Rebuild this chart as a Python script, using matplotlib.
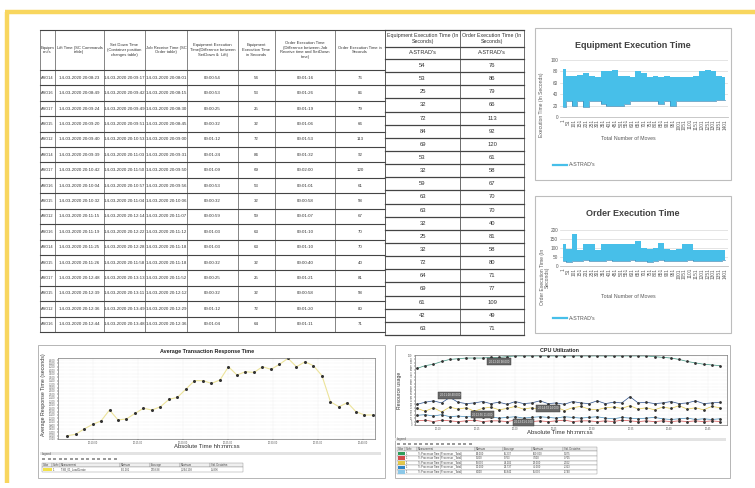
import numpy as np
import matplotlib
matplotlib.use('Agg')
import matplotlib.pyplot as plt
from matplotlib.patches import Rectangle

W, H = 755, 488
plt.rcParams['font.family'] = ['Liberation Sans', 'DejaVu Sans']

# ---------------- data ----------------
equipment = ['ASO14', 'ASO16', 'ASO17', 'ASO15', 'ASO12', 'ASO14', 'ASO17', 'ASO16', 'ASO15',
             'ASO12', 'ASO16', 'ASO14', 'ASO15', 'ASO17', 'ASO15', 'ASO12', 'ASO16']
lift_time = ['14-03-2020 20:08:23', '14-03-2020 20:08:49', '14-03-2020 20:09:24', '14-03-2020 20:09:20',
             '14-03-2020 20:09:40', '14-03-2020 20:09:39', '14-03-2020 20:10:42', '14-03-2020 20:10:04',
             '14-03-2020 20:10:32', '14-03-2020 20:11:15', '14-03-2020 20:11:19', '14-03-2020 20:11:25',
             '14-03-2020 20:11:26', '14-03-2020 20:12:48', '14-03-2020 20:12:39', '14-03-2020 20:12:36',
             '14-03-2020 20:12:44']
set_down_time = ['14-03-2020 20:09:17', '14-03-2020 20:09:42', '14-03-2020 20:09:49', '14-03-2020 20:09:51',
                 '14-03-2020 20:10:53', '14-03-2020 20:11:03', '14-03-2020 20:11:50', '14-03-2020 20:10:57',
                 '14-03-2020 20:11:04', '14-03-2020 20:12:14', '14-03-2020 20:12:22', '14-03-2020 20:12:28',
                 '14-03-2020 20:11:58', '14-03-2020 20:13:13', '14-03-2020 20:13:11', '14-03-2020 20:13:49',
                 '14-03-2020 20:13:48']
job_receive_time = ['14-03-2020 20:08:01', '14-03-2020 20:08:15', '14-03-2020 20:08:30', '14-03-2020 20:08:45',
                    '14-03-2020 20:09:00', '14-03-2020 20:09:31', '14-03-2020 20:09:50', '14-03-2020 20:09:56',
                    '14-03-2020 20:10:06', '14-03-2020 20:11:07', '14-03-2020 20:11:12', '14-03-2020 20:11:18',
                    '14-03-2020 20:11:18', '14-03-2020 20:11:52', '14-03-2020 20:12:12', '14-03-2020 20:12:29',
                    '14-03-2020 20:12:36']
equip_exec_diff = ['00:00:54', '00:00:53', '00:00:25', '00:00:32', '00:01:12', '00:01:24', '00:01:09',
                   '00:00:53', '00:00:32', '00:00:59', '00:01:03', '00:01:03', '00:00:32', '00:00:25',
                   '00:00:32', '00:01:12', '00:01:04']
equip_exec_sec = [54, 53, 25, 32, 72, 84, 69, 53, 32, 59, 63, 63, 32, 25, 32, 72, 64]
order_exec_diff = ['00:01:16', '00:01:26', '00:01:19', '00:01:06', '00:01:53', '00:01:32', '00:02:00',
                   '00:01:01', '00:00:58', '00:01:07', '00:01:10', '00:01:10', '00:00:40', '00:01:21',
                   '00:00:58', '00:01:20', '00:01:11']
order_exec_sec = [76, 86, 79, 66, 113, 92, 120, 61, 58, 67, 70, 70, 40, 81, 58, 80, 71]
left_headers = ['Equipm\nent\'s', 'Lift Time (SC Commands\ntable)',
                'Set Down Time\n(Container position\nchanges table)', 'Job Receive Time (SC\nOrder table)',
                'Equipment Execution\nTime(Difference between\nSetDown &  Lift)',
                'Equipment\nExecution Time\nin Seconds',
                'Order Execution Time\n(Difference between Job\nReceive time and SetDown\ntime)',
                'Order Execution Time in\nSeconds']

right_headers = ['Equipment Execution Time (In\nSeconds)', 'Order Execution Time (In\nSeconds)']
astrad_equip_sec = [54, 53, 25, 32, 72, 84, 69, 53, 32, 59, 63, 63, 32, 25, 32, 72, 64, 69, 61, 42, 63]
astrad_order_sec = [76, 86, 79, 66, 113, 92, 120, 61, 58, 67, 70, 70, 40, 81, 58, 80, 71, 77, 109, 49, 71]

moves = [1, 51, 101, 151, 201, 251, 301, 351, 401, 451, 501, 551, 601, 651, 701, 751, 801, 851, 901,
         951, 1001, 1051, 1101, 1151, 1201, 1251, 1301, 1351, 1401]
equip_upper = [85, 72, 72, 74, 78, 72, 70, 80, 80, 82, 72, 72, 70, 80, 78, 70, 72, 70, 72, 70, 70,
               70, 70, 72, 80, 82, 80, 72, 70]
equip_lower = [18, 28, 20, 28, 18, 28, 28, 22, 20, 20, 20, 22, 28, 28, 28, 28, 28, 22, 28, 20, 28,
               28, 28, 28, 28, 28, 28, 30, 30]
order_upper = [120, 95, 180, 90, 120, 120, 90, 120, 120, 120, 120, 120, 125, 140, 100, 95, 100, 130,
               95, 90, 95, 120, 120, 90, 90, 90, 90, 90, 90]
order_lower = [30, 25, 30, 28, 32, 30, 30, 28, 32, 30, 30, 28, 32, 30, 30, 25, 30, 32, 30, 28, 30,
               30, 32, 28, 30, 30, 28, 30, 32]

avg_resp_time = [0.19, 0.27, 0.58, 0.85, 1.05, 1.69, 1.11, 1.17, 1.49, 1.79, 1.69, 1.88, 2.31, 2.43,
                 2.91, 3.40, 3.40, 3.24, 3.44, 4.21, 3.73, 3.92, 3.88, 4.21, 4.06, 4.35, 4.70, 4.21,
                 4.50, 4.27, 3.69, 2.17, 1.88, 2.12, 1.59, 1.40, 1.40]
resp_time_labels = ['20:10:00', '20:15:00', '20:20:00', '20:25:00', '20:30:00', '20:35:00', '20:40:00']

cpu_total = [82, 86, 88, 92, 95, 96, 97, 97, 97, 98, 98, 99, 100, 100, 100, 100, 100, 100, 100,
             100, 100, 100, 100, 100, 100, 100, 100, 100, 100, 99, 98, 97, 95, 92, 90, 88, 87, 86]
cpu_proc1 = [30, 33, 35, 32, 40, 33, 31, 32, 34, 31, 33, 30, 34, 31, 32, 35, 31, 32, 30, 34, 32,
             31, 35, 31, 33, 32, 41, 32, 33, 31, 32, 34, 31, 32, 35, 31, 32, 33]
cpu_proc2 = [24, 20, 25, 19, 26, 23, 25, 20, 24, 26, 22, 24, 27, 23, 25, 22, 24, 26, 21, 25, 27,
             23, 22, 25, 26, 24, 28, 23, 25, 22, 26, 24, 28, 23, 25, 22, 27, 25]
cpu_proc3 = [14, 15, 13, 15, 12, 13, 12, 12, 11, 12, 10, 11, 12, 10, 11, 12, 11, 10, 12, 11, 10,
             11, 12, 10, 9, 11, 10, 9, 10, 11, 9, 8, 9, 10, 8, 9, 8, 9]
cpu_proc4 = [6, 7, 5, 7, 6, 5, 6, 7, 5, 6, 6, 5, 7, 6, 5, 6, 5, 6, 7, 5, 6, 6, 5, 6, 5, 7, 6, 5,
             6, 5, 6, 5, 6, 5, 6, 5, 6, 5]
cpu_time_labels = ['20:10', '20:15', '20:20', '20:25', '20:30', '20:35', '20:40', '20:45']

BLUE = '#47BFE9'
GRID = '#D9D9D9'
TXT = '#333333'


def px(x0, y0, x1, y1):
    # pixel box (top-left origin) -> figure fraction
    return [x0 / W, 1 - y1 / H, (x1 - x0) / W, (y1 - y0) / H]


fig = plt.figure(figsize=(7.55, 4.88), dpi=100)
bg = fig.add_axes([0, 0, 1, 1])
bg.set_xlim(0, W)
bg.set_ylim(H, 0)
bg.axis('off')

# yellow frame
bg.plot([5, W], [12, 12], color='#F8D65E', lw=3.2, solid_capstyle='butt')
bg.plot([7, 7], [12, 483], color='#F8D65E', lw=3.2, solid_capstyle='butt')

# ---------------- left table ----------------
col_x = [40, 55, 104, 145, 187, 238, 275, 335, 385]
t_top, t_head, t_bot = 30, 70, 332
row_h = (t_bot - t_head) / len(equipment)
for x in col_x:
    bg.plot([x, x], [t_top, t_bot], color='#555555', lw=0.5)
for y in [t_top, t_head] + [t_head + row_h * (i + 1) for i in range(len(equipment))]:
    bg.plot([col_x[0], col_x[-1]], [y, y], color='#444444', lw=0.8)
for i, h in enumerate(left_headers):
    bg.text((col_x[i] + col_x[i + 1]) / 2, (t_top + t_head) / 2, h, fontsize=3.0, color=TXT,
            ha='center', va='center', linespacing=1.3)
columns = [equipment, lift_time, set_down_time, job_receive_time, equip_exec_diff,
           equip_exec_sec, order_exec_diff, order_exec_sec]
for r in range(len(equipment)):
    yc = t_head + row_h * (r + 0.5)
    for c, col in enumerate(columns):
        bg.text((col_x[c] + col_x[c + 1]) / 2, yc, str(col[r]), fontsize=3.2 if c else 2.8,
                color=TXT, ha='center', va='center')

# ---------------- right table ----------------
rc_x = [385, 460, 524]
r_top, r_h1, r_h2, r_bot = 30, 47, 59, 335
r_row = (r_bot - r_h2) / len(astrad_equip_sec)
for x in rc_x:
    bg.plot([x, x], [r_top, r_bot], color='#555555', lw=0.6)
for y in [r_top, r_h1, r_h2] + [r_h2 + r_row * (i + 1) for i in range(len(astrad_equip_sec))]:
    bg.plot([rc_x[0], rc_x[-1]], [y, y], color='#444444', lw=0.9)
for i, h in enumerate(right_headers):
    bg.text((rc_x[i] + rc_x[i + 1]) / 2, (r_top + r_h1) / 2, h, fontsize=3.8, color=TXT,
            ha='center', va='center', linespacing=1.2)
    bg.text((rc_x[i] + rc_x[i + 1]) / 2, (r_h1 + r_h2) / 2, "A-STRAD's", fontsize=4.0, color=TXT,
            ha='center', va='center')
for r in range(len(astrad_equip_sec)):
    yc = r_h2 + r_row * (r + 0.5)
    bg.text((rc_x[0] + rc_x[1]) / 2, yc, str(astrad_equip_sec[r]), fontsize=4.2, color=TXT,
            ha='center', va='center')
    bg.text((rc_x[1] + rc_x[2]) / 2, yc, str(astrad_order_sec[r]), fontsize=4.2, color=TXT,
            ha='center', va='center')


# ---------------- excel charts ----------------
def excel_chart(frame, plot_box, title, title_y, ylabel, ylab_xy, upper, lower, ymax, ystep,
                xlab_y, leg_y):
    bg.add_patch(Rectangle((frame[0], frame[1]), frame[2] - frame[0], frame[3] - frame[1],
                           fill=False, ec='#BDBDBD', lw=0.8))
    bg.text((frame[0] + frame[2]) / 2, title_y, title, fontsize=6.5, fontweight='bold',
            color='#404040', ha='center', va='center')
    ax = fig.add_axes(px(*plot_box))
    idx = np.arange(len(moves))
    ax.fill_between(idx, lower, upper, step='mid', color=BLUE, lw=0)
    ax.step(idx, lower, where='mid', color='#3C8DBA', lw=0.5)
    ax.set_xlim(-0.5, len(moves) - 0.5)
    ax.set_ylim(0, ymax)
    ax.set_yticks(np.arange(0, ymax + 1, ystep))
    ax.set_xticks(idx)
    ax.set_xticklabels(moves, rotation=90)
    ax.tick_params(axis='both', length=0, pad=1.5, labelsize=3.4, labelcolor='#595959')
    ax.grid(axis='y', color=GRID, lw=0.5)
    ax.set_axisbelow(True)
    for s in ['top', 'right', 'left']:
        ax.spines[s].set_visible(False)
    ax.spines['bottom'].set_color('#BFBFBF')
    ax.spines['bottom'].set_linewidth(0.6)
    bg.text(ylab_xy[0], ylab_xy[1], ylabel, rotation=90, fontsize=3.6, color='#595959',
            ha='center', va='center', linespacing=1.1)
    bg.text(628, xlab_y, 'Total Number of Moves', fontsize=3.8, color='#595959',
            ha='center', va='center')
    bg.plot([553, 567], [leg_y, leg_y], color=BLUE, lw=1.6)
    bg.text(569, leg_y, "A-STRAD's", fontsize=3.8, color='#595959', ha='left', va='center')
    return ax


excel_chart((535, 28, 731, 180), (560, 60, 728, 117), 'Equipment Execution Time', 45,
            'Execution Time (In Seconds)', (541, 105), equip_upper, equip_lower, 100, 20, 138, 165)
excel_chart((535, 196, 731, 333), (560, 230, 728, 266), 'Order Execution Time', 213,
            'Order Execution Time (In\nSeconds)', (545, 277), order_upper, order_lower, 200, 50, 296, 318)


# ---------------- LoadRunner style panels ----------------
def legend_table(x_cols, y_bar, y_tool, y_head, rows, colors, x_right):
    bg.add_patch(Rectangle((x_cols[0] - 2, y_bar - 1.5), x_right - x_cols[0], 3, color='#E3E3E3', lw=0))
    bg.text(x_cols[0], y_bar, 'Legend', fontsize=2.2, color='#555555', va='center')
    for k in range(14):
        bg.add_patch(Rectangle((x_cols[0] + k * 5.5, y_tool - 1.3), 3, 2.6, color='#9A9A9A', lw=0))
    heads = ['Color', 'Scale', 'Measurement', 'Minimum', 'Average', 'Maximum', 'Std. Deviation']
    rh = 4.6
    for j in range(len(heads)):
        bg.add_patch(Rectangle((x_cols[j], y_head - rh / 2), x_cols[j + 1] - x_cols[j], rh,
                               fc='#EFEFEF', ec='#8C8C8C', lw=0.3))
        bg.text(x_cols[j] + 1, y_head, heads[j], fontsize=1.9, color='#444444', va='center')
    for i, (row, c) in enumerate(zip(rows, colors)):
        yr = y_head + rh * (i + 1)
        bg.add_patch(Rectangle((x_cols[0], yr - rh / 2), x_cols[-1] - x_cols[0], rh,
                               fc='white', ec='#8C8C8C', lw=0.3))
        bg.add_patch(Rectangle((x_cols[0] + 0.5, yr - rh / 2 + 0.5), x_cols[1] - x_cols[0] - 1,
                               rh - 1, color=c, lw=0))
        for j, s in enumerate(row):
            bg.text(x_cols[j + 1] + 1, yr, s, fontsize=1.9, color='#444444', va='center')


# Average Transaction Response Time
bg.add_patch(Rectangle((38, 345), 347, 133, fill=False, ec='#B5B5B5', lw=0.7))
bg.text(207, 351, 'Average Transaction Response Time', fontsize=3.9, fontweight='bold',
        color='#222222', ha='center', va='center')
ax1 = fig.add_axes(px(58, 358, 375, 439))
xi = np.arange(len(avg_resp_time))
ax1.plot(xi, avg_resp_time, color='#ECE39A', lw=0.8, marker='o', ms=1.2, mfc='#333333',
         mec='#333333')
ax1.set_xlim(-1.06, len(avg_resp_time) - 0.76)
ax1.set_ylim(0, 4.72)
ax1.set_yticks(np.arange(0, 4.7, 0.2))
ax1.yaxis.set_major_formatter(matplotlib.ticker.FormatStrFormatter('%.3f'))
ax1.set_xticks(3.06 + 5.3 * np.arange(len(resp_time_labels)))
ax1.set_xticklabels(resp_time_labels)
ax1.tick_params(axis='both', length=1, width=0.3, pad=0.8, labelsize=1.8, labelcolor='#555555')
ax1.grid(color='#DADADA', lw=0.3, ls=':')
for s in ax1.spines.values():
    s.set_color('#777777')
    s.set_linewidth(0.5)
bg.text(44, 395, 'Average Response Time (seconds)', rotation=90, fontsize=3.8,
        color='#333333', ha='center', va='center')
bg.text(207, 447, 'Absolute Time hh:mm:ss', fontsize=4.3, color='#333333', ha='center', va='center')
legend_table([42, 52, 60, 120, 150, 180, 210, 243], 453.5, 459, 465,
             [['1', 'TSB_01_LoadCreate', '116.281', '239.638', '3,294.138', '95.896']],
             ['#F2E24A'], 383)

# CPU Utilization
bg.add_patch(Rectangle((395, 345), 335, 133, fill=False, ec='#B5B5B5', lw=0.7))
bg.text(560, 351, 'CPU Utilization', fontsize=3.9, fontweight='bold',
        color='#222222', ha='center', va='center')
ax2 = fig.add_axes(px(415, 355, 727, 425))
xc = np.arange(len(cpu_total))
series = [(cpu_total, '#3B8F7A'), (cpu_proc1, '#2B4F8A'), (cpu_proc2, '#E3C84A'),
          (cpu_proc3, '#3F86B5'), (cpu_proc4, '#D24B4B')]
for vals, col in series:
    ax2.plot(xc, vals, color=col, lw=0.5, marker='o', ms=1.0, mfc='#333333', mec='#333333')
ax2.set_xlim(-0.25, len(cpu_total) - 0.15)
ax2.set_ylim(0, 101.4)
ax2.set_yticks(np.arange(0, 101, 5))
ax2.set_xticks(2.6 + 4.7 * np.arange(len(cpu_time_labels)))
ax2.set_xticklabels(cpu_time_labels)
ax2.tick_params(axis='both', length=1, width=0.3, pad=0.8, labelsize=1.8, labelcolor='#555555')
ax2.grid(color='#DADADA', lw=0.3, ls=':')
for s in ax2.spines.values():
    s.set_color('#777777')
    s.set_linewidth(0.5)
tags = [(10, cpu_total, -3), (4, cpu_proc1, 1.5), (8, cpu_proc3, 2), (16, cpu_proc2, 0), (13, cpu_proc4, -1)]
for i, vals, dy in tags:
    ax2.annotate('20:%02d:%02d %.3f' % (10 + i // 4, (i * 7) % 60, vals[i]), xy=(i, vals[i]),
                 xytext=(0, dy), textcoords='offset points', fontsize=2.0, color='#F2F2F2',
                 ha='center', va='center',
                 bbox=dict(boxstyle='square,pad=0.5', fc='#6A6A6A', ec='#333333', lw=0.3))
bg.text(400, 390, 'Resource usage', rotation=90, fontsize=3.6, color='#333333', ha='center', va='center')
bg.text(560, 433, 'Absolute Time hh:mm:ss', fontsize=4.3, color='#333333', ha='center', va='center')
cpu_rows = []
for vals in [cpu_total, cpu_proc4, cpu_proc2, cpu_proc1, cpu_proc3]:
    cpu_rows.append(['1', '% Processor Time (Processor _Total)', '%.3f' % min(vals),
                     '%.3f' % np.mean(vals), '%.3f' % max(vals), '%.3f' % np.std(vals)])
legend_table([397, 405, 417, 475, 503, 532, 563, 597], 439, 444, 449, cpu_rows,
             ['#2E9E5B', '#D24B4B', '#E3C84A', '#2F86C8', '#8CC8E8'], 728)

fig.savefig('out.png', dpi=100)
